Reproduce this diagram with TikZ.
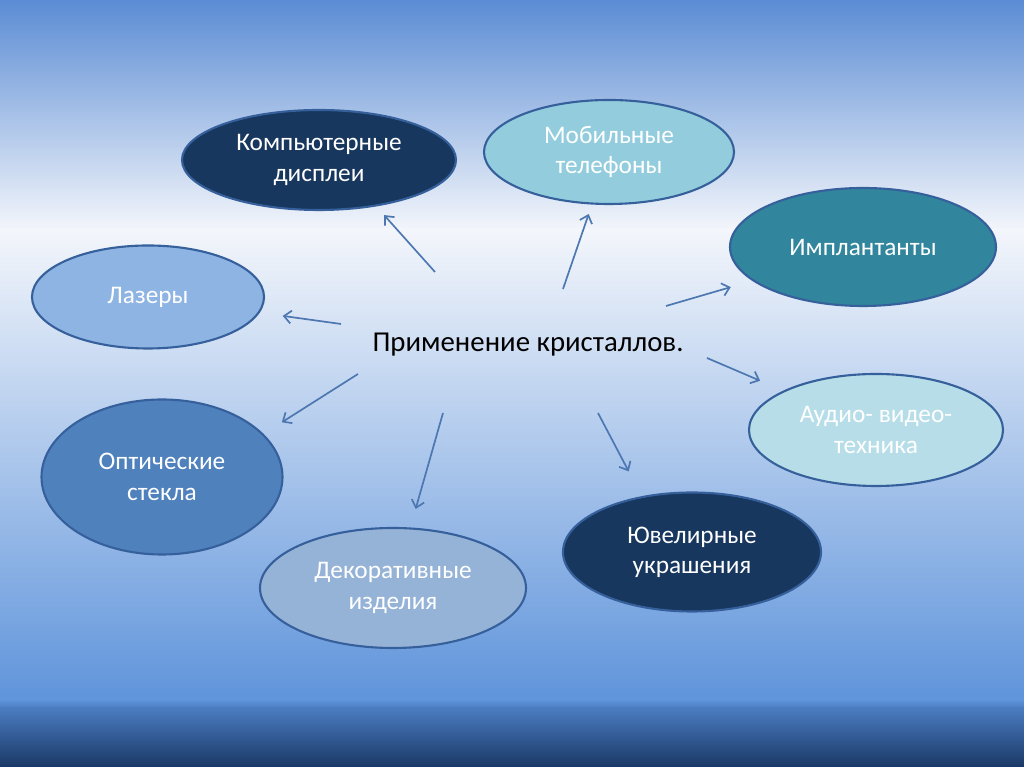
\documentclass[tikz,border=0pt]{standalone}
\usepackage{fontspec}
\setmainfont{Carlito}
\usepackage{tikz}
\usetikzlibrary{shapes.geometric,arrows.meta,positioning}
\usepackage{xcolor}

\definecolor{bgtop}{HTML}{5B8CD4}
\definecolor{bglight}{HTML}{F3F6FB}
\definecolor{bgmid}{HTML}{5F94DB}
\definecolor{bgband}{HTML}{4A7CC0}
\definecolor{bgbottom}{HTML}{1A3866}
\definecolor{navy}{HTML}{17375E}
\definecolor{aqua}{HTML}{93CDDD}
\definecolor{teal}{HTML}{31859C}
\definecolor{sky}{HTML}{8EB4E3}
\definecolor{pale}{HTML}{B7DEE8}
\definecolor{steel}{HTML}{4F81BD}
\definecolor{greyblue}{HTML}{95B3D7}
\definecolor{rim}{HTML}{36609B}
\definecolor{arrowblue}{HTML}{4D77B0}

\begin{document}
\begin{tikzpicture}[
  oval/.style={ellipse, draw=rim, line width=1.5pt, inner sep=0pt, align=center, text=white, font=\fontsize{18}{21.5}\selectfont},
  arrow/.style={->, >={Straight Barb[length=1.8mm, width=3.2mm]}, draw=arrowblue, line width=1.2pt}
]
  % background
  \useasboundingbox (0,0) rectangle (25.6,19.175);
  \shade[top color=bgtop, bottom color=bglight] (0,13.425) rectangle (25.6,19.175);
  \shade[top color=bglight, bottom color=bgmid] (0,1.675) rectangle (25.6,13.425);
  \shade[top color=bgmid, bottom color=bgband] (0,1.475) rectangle (25.6,1.675);
  \shade[top color=bgband, bottom color=bgbottom] (0,0) rectangle (25.6,1.475);

  \node[font=\fontsize{20.5}{24}\selectfont] (center) at (13.2,10.55) {Применение кристаллов.};

  \node[oval, fill=navy, minimum width=6.85cm, minimum height=2.5cm] (displays) at (7.975,15.175) {Компьютерные\\дисплеи};
  \node[oval, fill=aqua, minimum width=6.25cm, minimum height=2.6cm] (phones) at (15.225,15.375) {Мобильные\\телефоны};
  \node[oval, fill=teal, minimum width=6.65cm, minimum height=2.95cm] (implants) at (21.575,13.0) {Имплантанты};
  \node[oval, fill=sky, minimum width=5.8cm, minimum height=2.575cm] (lasers) at (3.7,11.75) {Лазеры};
  \node[oval, fill=pale, minimum width=6.35cm, minimum height=2.8cm] (audio) at (21.9,8.425) {Аудио- видео-\\техника};
  \node[oval, fill=steel, minimum width=6.025cm, minimum height=3.875cm] (optics) at (4.05,7.25) {Оптические\\стекла};
  \node[oval, fill=greyblue, minimum width=6.65cm, minimum height=3cm] (decor) at (9.825,4.475) {Декоративные\\изделия};
  \node[oval, fill=navy, minimum width=6.45cm, minimum height=2.975cm] (jewels) at (17.3,5.375) {Ювелирные\\украшения};

  % arrow tails around the title
  \coordinate (t-displays) at (10.875,12.375);
  \coordinate (t-phones) at (14.075,11.95);
  \coordinate (t-implants) at (16.65,11.525);
  \coordinate (t-lasers) at (8.525,11.075);
  \coordinate (t-audio) at (17.675,10.225);
  \coordinate (t-optics) at (8.95,9.825);
  \coordinate (t-decor) at (11.075,8.85);
  \coordinate (t-jewels) at (14.95,8.85);

  \draw[arrow, shorten >=0.29cm] (t-displays) -- (displays.-39);
  \draw[arrow, shorten >=0.25cm] (t-phones) -- (phones.252);
  \draw[arrow, shorten >=0.56cm] (t-implants) -- (implants.197);
  \draw[arrow, shorten >=0.58cm] (t-lasers) -- (lasers.-8);
  \draw[arrow, shorten >=0.63cm] (t-audio) -- (audio.157);
  \draw[arrow, shorten >=0.54cm] (t-optics) -- (optics.23);
  \draw[arrow, shorten >=0.48cm] (t-decor) -- (decor.74);
  \draw[arrow, shorten >=0.70cm] (t-jewels) -- (jewels.132);
\end{tikzpicture}
\end{document}
